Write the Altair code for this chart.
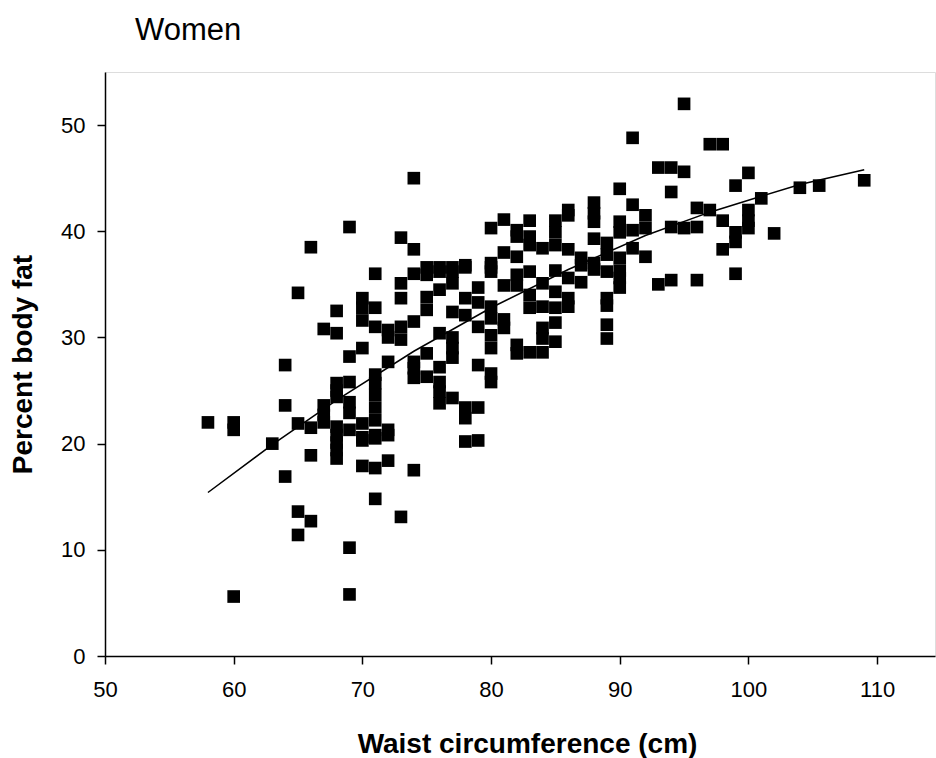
import altair as alt
import pandas as pd

# Waist circumference (cm) columns and the body-fat values read at each column
waist_cm = [58, 60, 63, 64, 65, 66, 67, 68, 69, 70, 71, 72, 73, 74, 75, 76, 77, 78, 79,
            80, 81, 82, 83, 84, 85, 86, 87, 88, 89, 90, 91, 92, 93, 94, 95, 96, 97, 98,
            99, 100, 101, 102, 104, 105.5, 109]
body_fat = [
    [22.0],
    [22.0, 21.3, 5.6],
    [20.0],
    [27.4, 23.6, 16.9],
    [34.2, 21.9, 13.6, 11.4],
    [38.5, 21.5, 18.9, 12.7],
    [30.8, 23.6, 22.7, 22.0],
    [32.5, 30.4, 25.7, 25.0, 24.4, 21.6, 20.8, 20.1, 19.4, 18.6],
    [40.4, 28.2, 25.8, 23.9, 22.9, 21.3, 10.2, 5.8],
    [33.7, 32.8, 31.6, 29.0, 21.9, 20.6, 20.3, 17.9],
    [36.0, 32.8, 31.0, 26.5, 25.7, 24.6, 23.4, 22.2, 20.8, 20.5, 17.7, 14.8],
    [30.7, 30.0, 27.7, 21.3, 20.8, 18.4],
    [39.4, 35.1, 33.7, 31.0, 29.8, 13.1],
    [45.0, 38.3, 36.0, 31.5, 27.7, 27.1, 26.2, 17.5],
    [36.6, 35.9, 33.8, 32.6, 28.5, 26.3],
    [36.6, 36.2, 34.5, 30.4, 27.2, 25.8, 24.9, 23.8],
    [36.6, 36.2, 35.1, 32.4, 30.0, 29.0, 28.1, 24.3],
    [36.8, 36.6, 33.7, 32.1, 23.4, 22.4, 20.2],
    [34.7, 33.3, 31.0, 27.4, 23.4, 20.3],
    [40.3, 37.0, 36.6, 36.2, 32.9, 31.8, 30.2, 29.0, 26.6, 25.8],
    [41.1, 38.0, 34.9, 31.7, 30.9],
    [40.1, 39.5, 37.6, 35.9, 34.9, 29.3, 28.5],
    [41.0, 39.5, 38.7, 36.2, 34.0, 32.8, 28.6],
    [38.4, 35.1, 32.9, 30.9, 29.9, 28.6],
    [41.0, 39.9, 38.7, 36.3, 34.3, 32.8, 31.4, 29.6],
    [42.0, 41.5, 38.3, 35.6, 33.7, 32.9],
    [37.5, 36.8, 35.2],
    [42.7, 41.7, 40.9, 39.3, 37.0, 36.4],
    [38.9, 37.8, 36.2, 33.7, 33.0, 31.2, 29.9],
    [44.0, 40.9, 39.9, 37.5, 36.3, 35.6, 34.7],
    [48.8, 42.5, 40.1, 38.4],
    [41.5, 40.3, 37.6],
    [46.0, 35.0],
    [46.0, 43.7, 40.4, 35.4],
    [52.0, 45.6, 40.3],
    [42.2, 40.4, 35.4],
    [48.2, 42.0],
    [48.2, 41.0, 38.3],
    [44.3, 39.9, 39.0, 36.0],
    [45.5, 42.0, 41.0, 40.3],
    [43.1],
    [39.8],
    [44.1],
    [44.3],
    [44.8],
]

# Fitted curve
fit_waist = [58, 63, 68, 74, 80, 86, 92, 97, 101, 104, 109]
fit_fat = [15.4, 19.9, 24.1, 28.7, 32.8, 36.4, 39.6, 41.8, 43.3, 44.4, 45.8]

x_ticks = [50, 60, 70, 80, 90, 100, 110]
y_ticks = [0, 10, 20, 30, 40, 50]

rows = [{"waist": w, "fat": f} for w, fs in zip(waist_cm, body_fat) for f in fs]
df = pd.DataFrame(rows)
fit_df = pd.DataFrame({"waist": fit_waist, "fat": fit_fat})

FONT = "Liberation Sans"

x_scale = alt.Scale(domain=[50, 114.5], nice=False, zero=False)
y_scale = alt.Scale(domain=[0, 55], nice=False)

x_axis = alt.Axis(
    values=x_ticks, title="Waist circumference (cm)", grid=False,
    domainColor="black", domainWidth=1.5, tickColor="black", tickWidth=1.5, tickSize=8,
    labelFont=FONT, labelFontSize=22, labelColor="black", labelPadding=15,
    labelFlush=False, labelOverlap=False,
    titleFont=FONT, titleFontSize=28, titleFontWeight="bold", titleColor="black",
    titleX=422, titleY=96, titleBaseline="alphabetic", titleAlign="center",
)
y_axis = alt.Axis(
    values=y_ticks, title="Percent body fat", grid=False,
    domainColor="black", domainWidth=1.5, tickColor="black", tickWidth=1.5, tickSize=8,
    labelFont=FONT, labelFontSize=22, labelColor="black", labelPadding=12,
    labelFlush=False, labelOverlap=False,
    titleFont=FONT, titleFontSize=28, titleFontWeight="bold", titleColor="black",
    titleAngle=270, titleX=-82, titleY=292, titleBaseline="middle", titleAlign="center",
)

line = alt.Chart(fit_df).mark_line(color="black", strokeWidth=1.5).encode(
    x=alt.X("waist:Q", scale=x_scale, axis=x_axis),
    y=alt.Y("fat:Q", scale=y_scale, axis=y_axis),
)
points = alt.Chart(df).mark_point(
    shape="square", filled=True, color="black", size=160, opacity=1
).encode(
    x=alt.X("waist:Q", scale=x_scale, axis=x_axis),
    y=alt.Y("fat:Q", scale=y_scale, axis=y_axis),
)

chart = alt.layer(line, points).properties(
    width=830,
    height=584,
    title=alt.TitleParams(
        "Women", anchor="start", frame="group", font=FONT, fontSize=31,
        fontWeight="normal", color="black", dx=30, offset=1, baseline="alphabetic",
    ),
    padding={"left": 105, "top": 72, "right": 1, "bottom": 102},
    autosize="none",
).configure_view(stroke=None).configure(background="white")

chart.save("out.html", embed_options={"renderer": "svg", "actions": False})
